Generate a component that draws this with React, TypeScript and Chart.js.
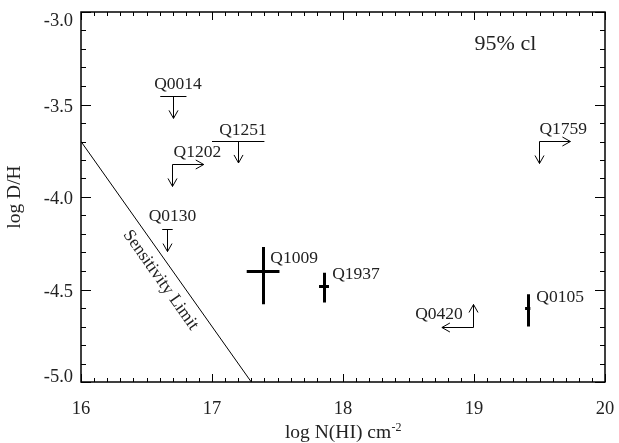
import React, { useEffect, useRef } from 'react';
import { Chart, registerables } from 'chart.js';

Chart.register(...registerables);

// ---- axis ticks ----
const xTickValues = [16, 17, 18, 19, 20];
const xTickLabels = ['16', '17', '18', '19', '20'];
const yTickValues = [-5.0, -4.5, -4.0, -3.5, -3.0];
const yTickLabels = ['-5.0', '-4.5', '-4.0', '-3.5', '-3.0'];

// ---- sensitivity limit line ----
const sensLogNHI = [16.0, 17.3];
const sensLogDH = [-3.7, -5.0];

// ---- detections (with error bars) ----
const detNames = ['Q1009', 'Q1937', 'Q0105'];
const detLogNHI = [17.39, 17.855, 19.41];
const detLogNHIErr = [0.125, 0.038, 0.02];
const detLogDH = [-4.40, -4.48, -4.60];
const detLogDHErrHi = [0.13, 0.07, 0.075];
const detLogDHErrLo = [0.18, 0.09, 0.10];

// ---- limits ----
const limNames = ['Q0014', 'Q1251', 'Q1202', 'Q0130', 'Q1759', 'Q0420'];
const limLogNHI = [16.705, 17.2, 16.697, 16.66, 19.496, 18.995];
const limLogNHIErr = [0.1, 0.2, 0, 0.04, 0, 0];
const limLogDH = [-3.455, -3.696, -3.823, -4.175, -3.699, -4.701];
const limDHDir = ['upper', 'upper', 'upper', 'upper', 'upper', 'lower'];
const limNHIDir = ['', '', 'lower', '', 'lower', 'upper'];
const ARROW_LEN_DH = 0.12;
const ARROW_LEN_NHI = 0.24;

// ---- annotation ----
const clText = '95% cl';
const clPos = [19.24, -3.203];
const sensText = 'Sensitivity Limit';

// ---- styles ----
const FONT = '"Liberation Serif", "Times New Roman", serif';
const TEXT_COLOR = '#222';
const LABEL_OFFSETS: Record<string, [number, number]> = {
  Q0014: [4.7, -6.7],
  Q1251: [4.8, -5.9],
  Q1202: [25, -7.5],
  Q0130: [5, -8.2],
  Q1009: [31, -7.9],
  Q1937: [32, -6.9],
  Q1759: [24.3, -7.2],
  Q0420: [-34.3, -7.5],
  Q0105: [32.4, -6.2],
};

function crisp(v: number) {
  return Math.round(v) + 0.5;
}

function drawArrow(ctx: CanvasRenderingContext2D, x0: number, y0: number, x1: number, y1: number) {
  const a = Math.atan2(y1 - y0, x1 - x0);
  const hl = 8;
  const hw = 4.5;
  const bx = x1 - hl * Math.cos(a);
  const by = y1 - hl * Math.sin(a);
  const nx = -Math.sin(a) * hw;
  const ny = Math.cos(a) * hw;
  ctx.beginPath();
  ctx.moveTo(x0, y0);
  ctx.lineTo(x1, y1);
  ctx.moveTo(bx + nx, by + ny);
  ctx.lineTo(x1, y1);
  ctx.lineTo(bx - nx, by - ny);
  ctx.stroke();
}

// keep the end y-tick labels inside the frame, as in the original plot
const labelClampPlugin = {
  id: 'labelClamp',
  beforeDraw(chart: any) {
    const ys = chart.scales.y;
    const { top, bottom } = chart.chartArea;
    const items = ys.getLabelItems(chart.chartArea);
    for (const it of items) {
      const tr = it.options.translation;
      tr[1] = Math.min(Math.max(tr[1], top + 9.5), bottom - 4.5);
    }
  },
};

const framePlugin = {
  id: 'framePlugin',
  afterDraw(chart: any) {
    const ctx: CanvasRenderingContext2D = chart.ctx;
    const { left, right, top, bottom } = chart.chartArea;
    const xs = chart.scales.x;
    const ys = chart.scales.y;
    const X = (v: number) => xs.getPixelForValue(v);
    const Y = (v: number) => ys.getPixelForValue(v);

    ctx.save();
    ctx.strokeStyle = '#000';
    ctx.fillStyle = '#000';

    // frame
    ctx.lineWidth = 1.5;
    ctx.strokeRect(left, top, right - left, bottom - top);

    // tick marks (inside, all four sides)
    ctx.lineWidth = 1;
    ctx.beginPath();
    const nx = Math.round((xs.max - xs.min) / 0.1);
    for (let i = 0; i <= nx; i++) {
      const px = crisp(X(xs.min + i * 0.1));
      const len = i % 10 === 0 ? 8 : 4;
      ctx.moveTo(px, bottom);
      ctx.lineTo(px, bottom - len);
      ctx.moveTo(px, top);
      ctx.lineTo(px, top + len);
    }
    const ny = Math.round((ys.max - ys.min) / 0.1);
    for (let i = 0; i <= ny; i++) {
      const py = crisp(Y(ys.min + i * 0.1));
      const len = i % 5 === 0 ? 10 : 5;
      ctx.moveTo(left, py);
      ctx.lineTo(left + len, py);
      ctx.moveTo(right, py);
      ctx.lineTo(right - len, py);
    }
    ctx.stroke();

    // detections with error bars
    ctx.lineWidth = 3;
    ctx.lineCap = 'butt';
    for (let i = 0; i < detNames.length; i++) {
      const px = crisp(X(detLogNHI[i]));
      const py = crisp(Y(detLogDH[i]));
      ctx.beginPath();
      ctx.moveTo(X(detLogNHI[i] - detLogNHIErr[i]), py);
      ctx.lineTo(X(detLogNHI[i] + detLogNHIErr[i]), py);
      ctx.moveTo(px, Y(detLogDH[i] + detLogDHErrHi[i]));
      ctx.lineTo(px, Y(detLogDH[i] - detLogDHErrLo[i]));
      ctx.stroke();
    }

    // limits
    ctx.lineWidth = 1;
    for (let i = 0; i < limNames.length; i++) {
      const px = crisp(X(limLogNHI[i]));
      const py = crisp(Y(limLogDH[i]));
      if (limLogNHIErr[i] > 0) {
        ctx.beginPath();
        ctx.moveTo(X(limLogNHI[i] - limLogNHIErr[i]), py);
        ctx.lineTo(X(limLogNHI[i] + limLogNHIErr[i]), py);
        ctx.stroke();
      }
      if (limDHDir[i] === 'upper') {
        drawArrow(ctx, px, py, px, Y(limLogDH[i] - ARROW_LEN_DH));
      } else if (limDHDir[i] === 'lower') {
        drawArrow(ctx, px, py, px, Y(limLogDH[i] + ARROW_LEN_DH));
      }
      if (limNHIDir[i] === 'lower') {
        drawArrow(ctx, px, py, X(limLogNHI[i] + ARROW_LEN_NHI), py);
      } else if (limNHIDir[i] === 'upper') {
        drawArrow(ctx, px, py, X(limLogNHI[i] - ARROW_LEN_NHI), py);
      }
    }

    // object labels
    ctx.fillStyle = TEXT_COLOR;
    ctx.font = `17.5px ${FONT}`;
    ctx.textAlign = 'center';
    ctx.textBaseline = 'alphabetic';
    const allNames = [...detNames, ...limNames];
    const allX = [...detLogNHI, ...limLogNHI];
    const allY = [...detLogDH, ...limLogDH];
    for (let i = 0; i < allNames.length; i++) {
      const off = LABEL_OFFSETS[allNames[i]] || [0, 0];
      ctx.fillText(allNames[i], X(allX[i]) + off[0], Y(allY[i]) + off[1]);
    }

    // sensitivity limit label along the line
    {
      const x0 = X(sensLogNHI[0]);
      const y0 = Y(sensLogDH[0]);
      const x1 = X(sensLogNHI[1]);
      const y1 = Y(sensLogDH[1]);
      const a = Math.atan2(y1 - y0, x1 - x0);
      const t = 0.54;
      const cx = x0 + (x1 - x0) * t - Math.sin(a) * 15;
      const cy = y0 + (y1 - y0) * t + Math.cos(a) * 15;
      ctx.save();
      ctx.translate(cx, cy);
      ctx.rotate(a);
      ctx.textBaseline = 'middle';
      ctx.fillText(sensText, 0, 0);
      ctx.restore();
    }

    // 95% cl
    ctx.font = `22px ${FONT}`;
    ctx.textBaseline = 'alphabetic';
    ctx.fillText(clText, X(clPos[0]), Y(clPos[1]));

    // axis titles
    ctx.font = `19.5px ${FONT}`;
    ctx.save();
    ctx.translate(20, (top + bottom) / 2);
    ctx.rotate(-Math.PI / 2);
    ctx.textAlign = 'center';
    ctx.fillText('log D/H', 0, 0);
    ctx.restore();

    const main = 'log N(HI) cm';
    const sup = '-2';
    ctx.font = `19.5px ${FONT}`;
    const wMain = ctx.measureText(main).width;
    ctx.font = `12px ${FONT}`;
    const wSup = ctx.measureText(sup).width;
    const startX = (left + right) / 2 - (wMain + wSup) / 2;
    ctx.textAlign = 'left';
    ctx.font = `19.5px ${FONT}`;
    ctx.fillText(main, startX, 438);
    ctx.font = `12px ${FONT}`;
    ctx.fillText(sup, startX + wMain + 0.5, 431);

    ctx.restore();
  },
};

export default function App() {
  const canvasRef = useRef<HTMLCanvasElement | null>(null);

  useEffect(() => {
    const canvas = canvasRef.current;
    if (!canvas) return;
    const chart = new Chart(canvas, {
      type: 'scatter',
      data: {
        datasets: [
          {
            type: 'line',
            data: sensLogNHI.map((x, i) => ({ x, y: sensLogDH[i] })),
            borderColor: '#000',
            borderWidth: 1,
            pointRadius: 0,
            fill: false,
            tension: 0,
          } as any,
          {
            data: detLogNHI.map((x, i) => ({ x, y: detLogDH[i] })),
            pointRadius: 0,
          },
          {
            data: limLogNHI.map((x, i) => ({ x, y: limLogDH[i] })),
            pointRadius: 0,
          },
        ],
      },
      options: {
        responsive: false,
        animation: false,
        events: [],
        layout: { padding: { left: 0, top: 12, right: 14, bottom: 0 } },
        plugins: {
          legend: { display: false },
          tooltip: { enabled: false },
          title: { display: false },
        },
        scales: {
          x: {
            type: 'linear',
            position: 'bottom',
            min: 16,
            max: 20,
            afterFit: (s: any) => {
              s.height = 61;
              s.paddingLeft = 0;
              s.paddingRight = 0;
            },
            afterBuildTicks: (s: any) => {
              s.ticks = xTickValues.map((v) => ({ value: v }));
            },
            grid: { display: false, drawTicks: false },
            border: { display: false },
            ticks: {
              padding: 16,
              color: TEXT_COLOR,
              font: { family: FONT, size: 18.5 },
              maxRotation: 0,
              autoSkip: false,
              callback: (v: any) => {
                const i = xTickValues.indexOf(Number(v));
                return i >= 0 ? xTickLabels[i] : '';
              },
            },
          },
          y: {
            type: 'linear',
            position: 'left',
            min: -5,
            max: -3,
            afterFit: (s: any) => {
              s.width = 81;
              s.paddingTop = 0;
              s.paddingBottom = 0;
            },
            afterBuildTicks: (s: any) => {
              s.ticks = yTickValues.map((v) => ({ value: v }));
            },
            grid: { display: false, drawTicks: false },
            border: { display: false },
            ticks: {
              padding: 8,
              labelOffset: 2.5,
              color: TEXT_COLOR,
              font: { family: FONT, size: 18.5 },
              autoSkip: false,
              callback: (v: any) => {
                const i = yTickValues.findIndex((t) => Math.abs(t - Number(v)) < 1e-9);
                return i >= 0 ? yTickLabels[i] : '';
              },
            },
          },
        },
      },
      plugins: [labelClampPlugin, framePlugin],
    });
    return () => chart.destroy();
  }, []);

  return (
    <div style={{ position: 'absolute', left: 0, top: 0, width: 619, height: 443, background: '#fff' }}>
      <canvas ref={canvasRef} width={619} height={443} />
    </div>
  );
}
